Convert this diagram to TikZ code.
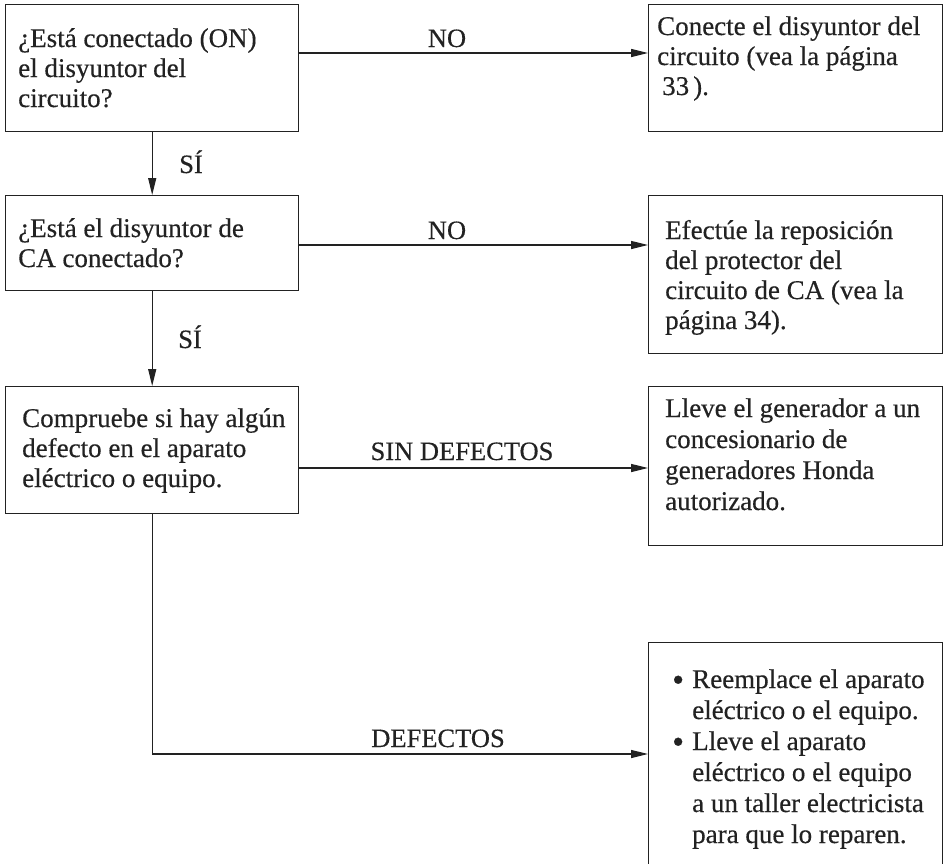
\documentclass[tikz,border=0pt]{standalone}
\usepackage{fontspec}
\setmainfont{Liberation Serif}[UprightFeatures={FakeBold=0.4}]
\usetikzlibrary{arrows.meta}
\definecolor{ink}{HTML}{222222}
\newcommand{\itemdot}{\makebox[19pt][l]{\hspace*{-1pt}\raisebox{-3pt}{\fontsize{34}{31}\selectfont •}}}
\begin{document}
\begin{tikzpicture}[x=1pt,y=-1pt,
  box/.style={draw=ink, line width=1.4pt, inner sep=0pt, anchor=north west},
  % texts are placed by the baseline of their last line
  txt/.style={anchor=base west, inner sep=0pt, align=left, text=ink,
              font=\fontsize{27}{30}\selectfont},
  lbl/.style={anchor=base, inner sep=0pt, text=ink,
              font=\fontsize{26.5}{30}\selectfont},
  link/.style={draw=ink, line width=1.3pt},
  arr/.style={link, -{Triangle[length=17pt,width=8pt]}}]
\clip (0,0) rectangle (945,863);
\fill[white] (0,0) rectangle (945,863);

% boxes
\node[box, minimum width=293pt, minimum height=127pt] (b1) at (5,4) {};
\node[box, minimum width=294pt, minimum height=127pt] (b2) at (648,4) {};
\node[box, minimum width=293pt, minimum height=95pt]  (b3) at (5,195) {};
\node[box, minimum width=294pt, minimum height=158pt] (b4) at (648,195) {};
\node[box, minimum width=293pt, minimum height=127pt] (b5) at (5,386) {};
\node[box, minimum width=294pt, minimum height=159pt] (b6) at (648,386) {};
\node[box, minimum width=294pt, minimum height=260pt] (b7) at (648,642) {};

% box texts
\node[txt] (t1) at (18,107) {¿Está conectado (ON)\\el disyuntor del\\circuito?};
\node[txt] (t2) at (657,95) {Conecte el disyuntor del\\circuito (vea la página\\\hspace*{5pt}33\hspace*{4pt}).};
\node[txt] (t3) at (18,267) {¿Está el disyuntor de\\CA conectado?};
\node[txt] (t4) at (665,329) {Efectúe la reposición\\del protector del\\circuito de CA (vea la\\página 34).};
\node[txt] (t5) at (22,487) {Compruebe si hay algún\\defecto en el aparato\\eléctrico o equipo.};
\node[txt, font=\fontsize{27}{31}\selectfont] (t6) at (665,510) {Lleve el generador a un\\concesionario de\\generadores Honda\\autorizado.};
\node[txt, font=\fontsize{27}{31}\selectfont] (t7) at (673,843) {\itemdot Reemplace el aparato\\
  \hspace*{19pt}eléctrico o el equipo.\\
  \itemdot Lleve el aparato\\
  \hspace*{19pt}eléctrico o el equipo\\
  \hspace*{19pt}a un taller electricista\\
  \hspace*{19pt}para que lo reparen.};

% rows of the horizontal connectors
\coordinate (r1) at (0,53);
\coordinate (r2) at (0,245);
\coordinate (r3) at (0,468);
\coordinate (r4) at (0,754);

% connectors
\draw[arr] (b1.east |- r1) -- (b2.west |- r1);
\draw[arr] (b1.south) -- (b3.north);
\draw[arr] (b3.east |- r2) -- (b4.west |- r2);
\draw[arr] (b3.south) -- (b5.north);
\draw[arr] (b5.east |- r3) -- (b6.west |- r3);
\draw[arr] (b5.south) -- (b5.south |- r4) -- (b7.west |- r4);

% connector labels
\node[lbl] (l1) at (447,47) {NO};
\node[lbl] (l2) at (191,173) {SÍ};
\node[lbl] (l3) at (447,239) {NO};
\node[lbl] (l4) at (190,348) {SÍ};
\node[lbl] (l5) at (462,460) {SIN DEFECTOS};
\node[lbl] (l6) at (438,747) {DEFECTOS};
\end{tikzpicture}
\end{document}
